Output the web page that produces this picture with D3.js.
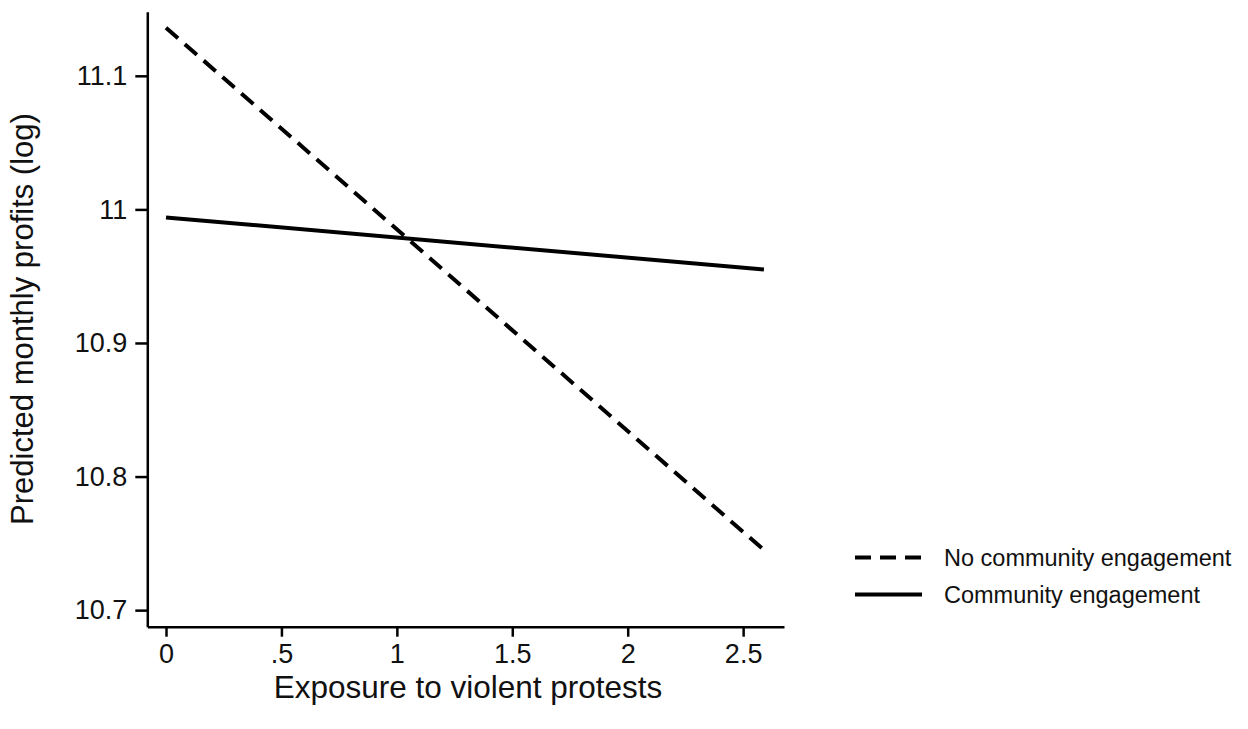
<!DOCTYPE html>
<html>
<head>
<meta charset="utf-8">
<script src="https://cdn.jsdelivr.net/npm/d3@7"></script>
<style>
  body { margin: 0; background: #fff; }
  text { font-family: "Liberation Sans", Arial, sans-serif; fill: #111; }
</style>
</head>
<body>
<div id="vis-tag"></div>
<script>
// 数据
const exposure = [0, 2.59];
const noEngagement = [11.136, 10.745];
const engagement = [10.994, 10.955];
const xTicks = [0, 0.5, 1, 1.5, 2, 2.5];
const yTicks = [10.7, 10.8, 10.9, 11, 11.1];
const seriesNames = ["No community engagement", "Community engagement"];

const width = 1248;
const height = 729;

const svg = d3.select("#vis-tag")
  .append("svg")
  .attr("width", width)
  .attr("height", height);

// 比例尺
const x = d3.scaleLinear().domain([-0.081, 2.677]).range([147.3, 784]);
const y = d3.scaleLinear().domain([10.6876, 11.148]).range([626.7, 11.7]);

// X轴
const xAxis = svg.append("g")
  .attr("transform", `translate(0, ${y.range()[0]})`)
  .call(d3.axisBottom(x).tickValues(xTicks).tickSize(10).tickSizeOuter(0).tickPadding(7)
    .tickFormat(d => d === 0 ? "0" : d3.format("")(d).replace(/^0\./, ".")));
xAxis.select(".domain").attr("stroke", "#000").attr("stroke-width", 2.5);
xAxis.selectAll(".tick line").attr("stroke", "#000").attr("stroke-width", 2.5);
xAxis.selectAll(".tick text").attr("font-size", 27).attr("fill", "#111")
  .attr("font-family", "Liberation Sans, Arial, sans-serif");

// Y轴
const yAxis = svg.append("g")
  .attr("transform", `translate(${x.range()[0]}, 0)`)
  .call(d3.axisLeft(y).tickValues(yTicks).tickSize(12).tickSizeOuter(0).tickPadding(8)
    .tickFormat(d3.format("")));
yAxis.select(".domain").attr("stroke", "#000").attr("stroke-width", 2.5);
yAxis.selectAll(".tick line").attr("stroke", "#000").attr("stroke-width", 2.5);
yAxis.selectAll(".tick text").attr("font-size", 27).attr("fill", "#111")
  .attr("font-family", "Liberation Sans, Arial, sans-serif");

// 轴标题
svg.append("text")
  .attr("x", 468)
  .attr("y", 698)
  .attr("text-anchor", "middle")
  .attr("font-size", 31.5)
  .text("Exposure to violent protests");

svg.append("text")
  .attr("transform", "translate(33, 319) rotate(-90)")
  .attr("text-anchor", "middle")
  .attr("font-size", 31)
  .text("Predicted monthly profits (log)");

// 线
const line = d3.line().x(d => x(d[0])).y(d => y(d[1]));
const series = [
  { name: seriesNames[0], values: exposure.map((e, i) => [e, noEngagement[i]]), dash: "16,9" },
  { name: seriesNames[1], values: exposure.map((e, i) => [e, engagement[i]]), dash: null }
];

svg.selectAll(".series")
  .data(series)
  .enter()
  .append("path")
  .attr("class", "series")
  .attr("d", d => line(d.values))
  .attr("fill", "none")
  .attr("stroke", "#000")
  .attr("stroke-width", 4);

svg.selectAll(".series").attr("stroke-dasharray", d => d.dash);

// 图例
const legend = svg.append("g").attr("transform", "translate(855, 557.5)");
series.forEach((s, i) => {
  const g = legend.append("g").attr("transform", `translate(0, ${i * 37})`);
  g.append("line")
    .attr("x1", 0).attr("x2", 67)
    .attr("y1", 0).attr("y2", 0)
    .attr("stroke", "#000")
    .attr("stroke-width", 4)
    .attr("stroke-dasharray", s.dash ? "16,9" : null);
  g.append("text")
    .attr("x", 89)
    .attr("y", 0)
    .attr("dy", "0.35em")
    .attr("font-size", 23.5)
    .text(s.name);
});
</script>
</body>
</html>
